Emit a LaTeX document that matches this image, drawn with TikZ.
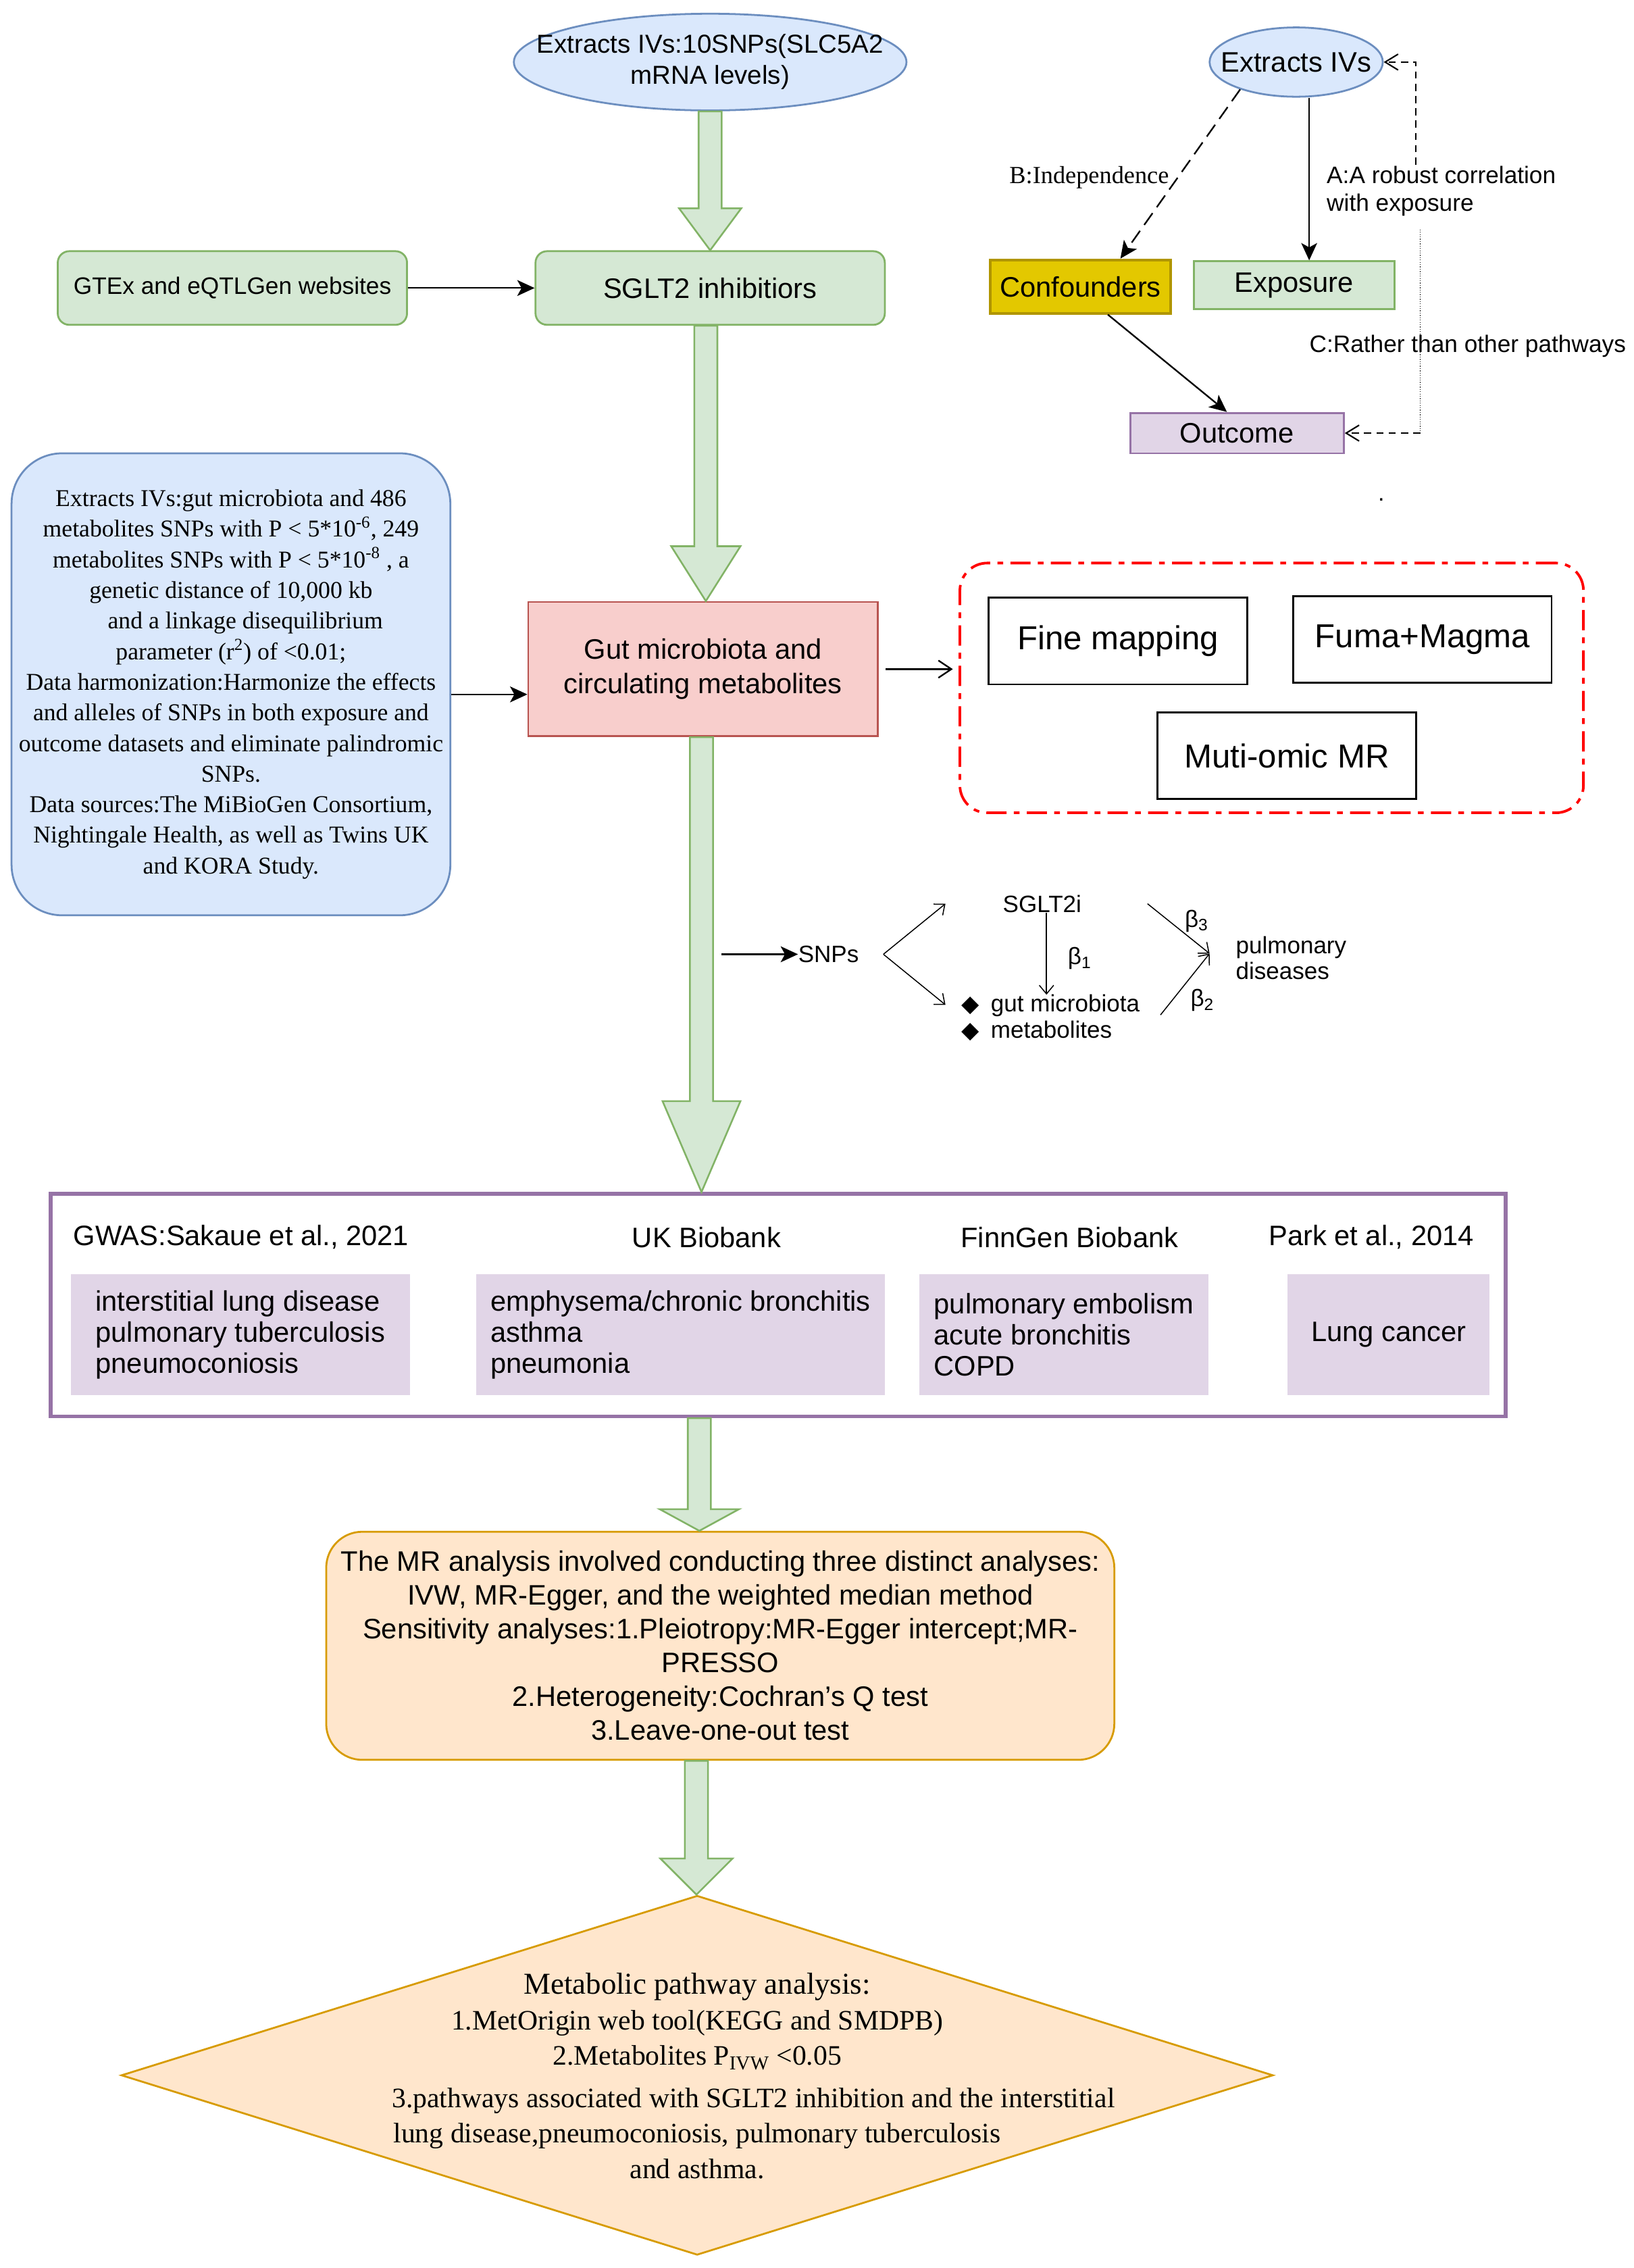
\documentclass[tikz,border=0pt]{standalone}
\usepackage{fontspec}
\setmainfont{Liberation Sans}
\newfontfamily\tnr{Liberation Serif}
\newfontfamily\djv{DejaVu Sans}
\usetikzlibrary{arrows.meta,calc,shapes.geometric}

\definecolor{bluefill}{HTML}{DAE8FC}
\definecolor{bluedraw}{HTML}{6C8EBF}
\definecolor{greenfill}{HTML}{D5E8D4}
\definecolor{greendraw}{HTML}{82B366}
\definecolor{redfill}{HTML}{F8CECC}
\definecolor{reddraw}{HTML}{B85450}
\definecolor{purplefill}{HTML}{E1D5E7}
\definecolor{purpledraw}{HTML}{9673A6}
\definecolor{orangefill}{HTML}{FFE6CC}
\definecolor{orangedraw}{HTML}{D79B00}
\definecolor{yellowfill}{HTML}{E3C800}
\definecolor{yellowdraw}{HTML}{B09500}

\newcommand{\fsz}[2]{\fontsize{#1}{#2}\selectfont}

% big green arrow: x, from, to, head length, head half width
\newcommand{\fatarrow}[5]{%
  \draw[fat] let \p1=(#2.south), \p2=(#3.north) in
    (#1pt-8pt,\y1) -- (#1pt-8pt,\y2+#4pt) -- (#1pt-#5pt,\y2+#4pt) -- (#1pt,\y2)
    -- (#1pt+#5pt,\y2+#4pt) -- (#1pt+8pt,\y2+#4pt) -- (#1pt+8pt,\y1) -- cycle;
}

\begin{document}
\begin{tikzpicture}
  [x=1pt,y=-1pt,
   every node/.style={inner sep=0pt, align=center},
   bluebox/.style={draw=bluedraw, fill=bluefill, line width=1.3pt},
   greenbox/.style={draw=greendraw, fill=greenfill, line width=1.3pt},
   plainbox/.style={draw=black, line width=1.2pt, minimum width=179pt, minimum height=60pt, font=\fsz{23}{26}},
   pinkbox/.style={fill=purplefill, minimum height=84pt, align=left, font=\fsz{19.5}{21.5}},
   head/.style={font=\fsz{19.5}{21.5}},
   small/.style={font=\fsz{16.4}{18}},
   conn/.style={line width=1.1pt, -{Stealth[length=12pt,width=11pt,inset=3pt]}},
   barb/.style={line width=1.1pt, -{Straight Barb[length=9pt,width=12pt]}},
   thinarr/.style={line width=0.7pt, -{Straight Barb[length=6pt,width=10pt]}},
   dashB/.style={conn, dash pattern=on 10pt off 5pt},
   dashC/.style={line width=1pt, dash pattern=on 5pt off 3.5pt, -{Straight Barb[length=9pt,width=11pt]}},
   fat/.style={draw=greendraw, fill=greenfill, line width=1.2pt}]

  \useasboundingbox (0,0) rectangle (1132,1571);

  % main column
  \node[bluebox, ellipse, minimum width=272pt, minimum height=67pt, inner xsep=-30pt, font=\fsz{18}{21.5}] (ivs) at (492,43) {Extracts IVs:10SNPs(SLC5A2\\mRNA levels)};
  \node[greenbox, rounded corners=8pt, minimum width=242pt, minimum height=51pt, font=\fsz{19.5}{21}] (sglt) at (492,199.5) {SGLT2 inhibitiors};
  \node[greenbox, rounded corners=8pt, minimum width=242pt, minimum height=51pt, font=\fsz{16.5}{19}] (gtex) at (161,199.5) {GTEx and eQTLGen websites};
  \node[bluebox, rounded corners=35pt, minimum width=304pt, minimum height=320pt, font=\tnr\fsz{16.7}{21.2}] (lbox) at (160,474)
    {Extracts IVs:gut microbiota and 486\\
     metabolites SNPs with P < 5*10\textsuperscript{-6}, 249\\
     metabolites SNPs with P < 5*10\textsuperscript{-8} , a\\
     genetic distance of 10,000 kb\\
     \hspace*{20pt}and a linkage disequilibrium\\
     parameter (r\textsuperscript{2}) of <0.01;\\
     Data harmonization:Harmonize the effects\\
     and alleles of SNPs in both exposure and\\
     outcome datasets and eliminate palindromic\\
     SNPs.\\
     Data sources:The MiBioGen Consortium,\\
     Nightingale Health, as well as Twins UK\\
     and KORA Study.};
  \node[draw=reddraw, fill=redfill, line width=1.3pt, minimum width=242pt, minimum height=93pt, font=\fsz{19.5}{24}] (gut) at (487,463.5) {Gut microbiota and\\circulating metabolites};

  % omics group
  \node[draw=red, line width=1.8pt, dash pattern=on 14pt off 5pt on 4pt off 5pt, rounded corners=19pt, minimum width=432pt, minimum height=173pt] (omics) at (881,476.5) {};
  \node[plainbox] (fine) at (774.5,444) {Fine mapping};
  \node[plainbox] (fuma) at (985.5,443) {Fuma+Magma};
  \node[plainbox] (muti) at (891.5,523.5) {Muti-omic MR};

  % SNP sketch
  \node[small] (snps) at (574,661) {SNPs};
  \node[small] (sglti) at (722,626) {SGLT2i};
  \node[small, anchor=west, align=left] (gutl) at (666,705) {{\djv\fsz{16}{16}◆}\hspace{8pt}gut microbiota\\{\djv\fsz{16}{16}◆}\hspace{8pt}metabolites};
  \node[font=\fsz{16.4}{17.5}, anchor=west, align=left] (pulm) at (856,663.5) {pulmonary\\diseases};
  \node[small] (b1) at (748,664) {β\textsubscript{1}};
  \node[small] (b3) at (829,638) {β\textsubscript{3}};
  \node[small] (b2) at (833,693) {β\textsubscript{2}};
  \coordinate (snpin) at (500,661);
  \coordinate (vtx) at (612,661);
  \coordinate (vup) at (655,626);
  \coordinate (vdn) at (655,696);
  \coordinate (b1e) at (725,689);
  \coordinate (b3s) at (795,626);
  \coordinate (b2s) at (804,703);
  \coordinate (pdin) at (838,660.5);

  % data sources
  \node[draw=purpledraw, line width=2.6pt, minimum width=1008pt, minimum height=154pt] (frame) at (539,904) {};
  \foreach \n/\x/\t in {h1/167/{GWAS:Sakaue et al., 2021}, h2/489.5/{UK Biobank}, h3/741/{FinnGen Biobank}, h4/950/{Park et al., 2014}}
    \node[head] (\n) at (\x,857) {\t};
  \foreach \n/\x/\w/\t in {d1/166.5/235/{interstitial lung disease\\pulmonary tuberculosis\\pneumoconiosis},
                           d2/471.5/283/{emphysema/chronic bronchitis\\asthma\\pneumonia},
                           d3/737/200/{pulmonary embolism\\acute bronchitis\\COPD},
                           d4/962/140/{Lung cancer}}
    \node[pinkbox, minimum width=\w pt] (\n) at (\x,924.5) {\t};

  \node[draw=orangedraw, fill=orangefill, line width=1.3pt, rounded corners=25pt, minimum width=546pt, minimum height=158pt, font=\fsz{19.5}{23.4}] (mr) at (499,1140)
    {The MR analysis involved conducting three distinct analyses:\\
     IVW, MR-Egger, and the weighted median method\\
     Sensitivity analyses:1.Pleiotropy:MR-Egger intercept;MR-\\
     PRESSO\\
     2.Heterogeneity:Cochran’s Q test\\
     3.Leave-one-out test};

  \node[diamond, draw=orangedraw, fill=orangefill, line width=1.3pt, minimum width=798pt, minimum height=249pt] (pw) at (483,1437.5) {};
  \node[font=\tnr\fsz{19.5}{24.5}] (pwtext) at (483,1438)
    {{\fsz{21}{24.5}Metabolic pathway analysis:}\\
     1.MetOrigin web tool(KEGG and SMDPB)\\
     2.Metabolites P\textsubscript{IVW} <0.05\\[5pt]
     \hspace*{78pt}3.pathways associated with SGLT2 inhibition and the interstitial\\
     lung disease,pneumoconiosis, pulmonary tuberculosis\\
     and asthma.};

  % MR assumptions
  \node[bluebox, ellipse, minimum width=120pt, minimum height=48pt, inner xsep=-15pt, font=\fsz{19.5}{22}] (ivs2) at (898,43) {Extracts IVs};
  \node[draw=yellowdraw, fill=yellowfill, line width=1.8pt, minimum width=125pt, minimum height=37pt, font=\fsz{19.5}{22}] (conf) at (748.5,198.5) {Confounders};
  \node[greenbox, minimum width=139pt, minimum height=33pt, font=\fsz{19.5}{22}] (expo) at (896.5,197.5) {Exposure};
  \node[draw=purpledraw, fill=purplefill, line width=1.3pt, minimum width=148pt, minimum height=28pt, font=\fsz{19.5}{22}] (outc) at (857,300) {Outcome};
  \node[font=\tnr\fsz{17}{20}, anchor=east] (lb) at (810,123) {B:Independence};
  \node[font=\fsz{16.5}{19}, anchor=west, align=left] (la) at (919,132.5) {A:A robust correlation\\with exposure};
  \node[font=\fsz{16.5}{19}, anchor=west] (lc) at (907,240) {C:Rather than other pathways};
  \node[font=\fsz{16}{18}] (dot) at (957,346) {.};
  \coordinate (ca) at (981,114);
  \coordinate (cb) at (984,159);

  \draw[conn] (gtex) -- (sglt);
  \draw[conn] ([yshift=-7pt]lbox.east) -- ([yshift=-7pt]lbox.east -| gut.west);
  \draw[barb, shorten >=4pt] ([xshift=5pt]gut.east) -- (gut.east -| omics.west);
  \draw[conn] (snpin) -- (snps.west);
  \foreach \to in {vup,vdn}
    \draw[thinarr] (vtx) -- (\to);
  \draw[thinarr] ([xshift=3pt]sglti.south) -- (b1e);
  \foreach \from in {b3s,b2s}
    \draw[thinarr] (\from) -- (pdin);

  \draw[dashB] (ivs2.206) -- (conf.35);
  \draw[conn] ($(ivs2.south)+(9,0)$) -- ($(expo.north)+(10.5,0)$);
  \draw[conn] ($(conf.south)+(19,0)$) -- ($(outc.north)+(-7,0)$);
  \draw[dashC] (ca) |- (ivs2.east);
  \draw[line width=0.6pt, densely dotted] (cb) -- (cb |- outc.east);
  \draw[dashC] (cb |- outc.east) -- (outc.east);
%  \draw[dashC] (ca) -- (cb);

  \fatarrow{492}{ivs}{sglt}{29}{21.5}
  \fatarrow{489}{sglt}{gut}{38}{24}
  \fatarrow{486}{gut}{frame}{63}{27}
  \fatarrow{484.5}{frame}{mr}{15}{27.5}
  \fatarrow{482.5}{mr}{pw}{25}{25}
\end{tikzpicture}
\end{document}
